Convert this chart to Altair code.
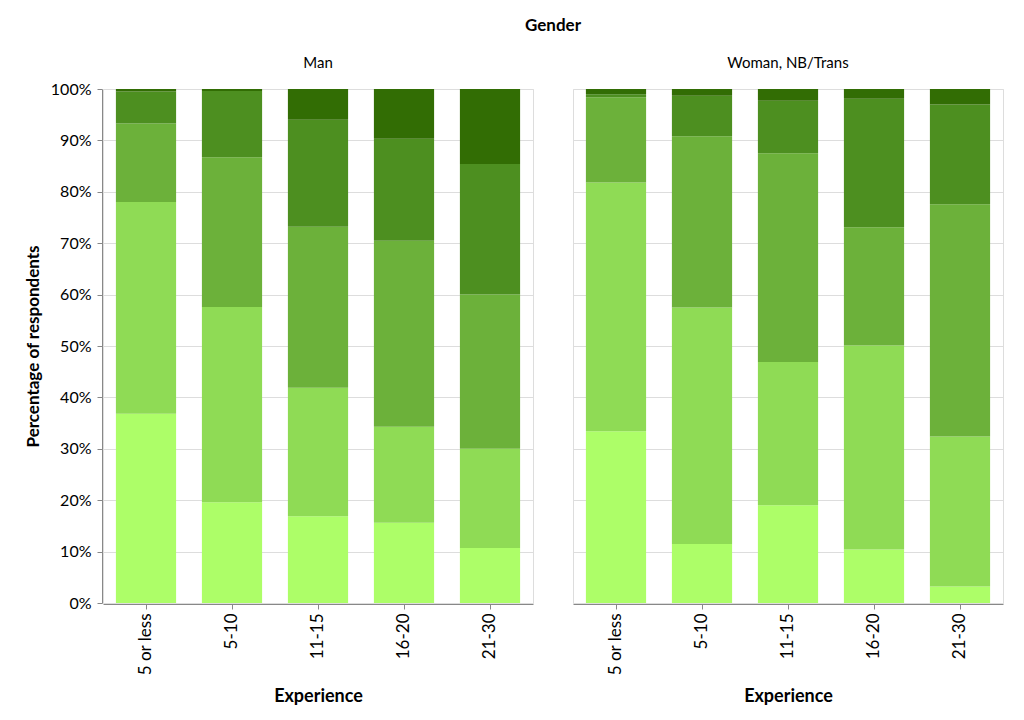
import altair as alt
import pandas as pd

genders = ["Man", "Woman, NB/Trans"]
experience = ["5 or less", "5-10", "11-15", "16-20", "21-30"]
levels = ["Level 1", "Level 2", "Level 3", "Level 4", "Level 5"]
colors = ["#adfe68", "#8fdb55", "#6cb13a", "#4d8f20", "#326d04"]

# percentages per level (bottom to top), one list per experience group
man_values = [
    [36.8, 41.2, 15.3, 6.2, 0.5],
    [19.6, 38.0, 29.1, 12.9, 0.4],
    [16.9, 25.0, 31.3, 20.8, 6.0],
    [15.6, 18.7, 36.2, 19.8, 9.7],
    [10.7, 19.3, 30.0, 25.4, 14.6],
]
woman_values = [
    [33.4, 48.4, 16.6, 0.6, 1.0],
    [11.5, 46.0, 33.3, 7.9, 1.3],
    [19.0, 27.9, 40.6, 10.2, 2.3],
    [10.4, 39.7, 23.0, 25.0, 1.9],
    [3.2, 29.2, 45.2, 19.4, 3.0],
]

rows = []
for g, table in zip(genders, [man_values, woman_values]):
    for e, vals in zip(experience, table):
        for i, (lvl, v) in enumerate(zip(levels, vals)):
            rows.append({"Gender": g, "Experience": e, "Level": lvl, "rank": i, "value": v})
df = pd.DataFrame(rows)

FONT = "Lato"

chart = alt.Chart(df).mark_bar().encode(
    x=alt.X("Experience:N", sort=experience, title="Experience",
            scale=alt.Scale(paddingInner=0.3, paddingOuter=0.15),
            axis=alt.Axis(labelAngle=-90, labelFontSize=17, titleFontSize=18,
                          titleFontWeight="bold", titlePadding=12, labelPadding=4)),
    y=alt.Y("value:Q", stack="normalize", title="Percentage of respondents",
            axis=alt.Axis(format=".0%", tickCount=10, labelFontSize=16, titleFontSize=17,
                          titleFontWeight="bold", titlePadding=8, labelPadding=6)),
    color=alt.Color("Level:N", sort=levels, scale=alt.Scale(domain=levels, range=colors),
                    legend=None),
    order=alt.Order("rank:Q", sort="ascending"),
).properties(
    width=430, height=514
).facet(
    column=alt.Column("Gender:N", sort=genders,
                      header=alt.Header(title="Gender", titleFontSize=17, titleFontWeight="bold",
                                        labelFontSize=15, titlePadding=11, labelPadding=17))
).properties(
    spacing=38,
    padding={"left": 16, "top": 9, "right": 5, "bottom": 5}
).configure(
    font=FONT
).configure_axis(
    domainColor="#888888", tickColor="#888888", gridColor="#dddddd",
    labelColor="#000000", titleColor="#000000"
).configure_view(
    stroke="#dddddd"
)

chart.save("out.html", embed_options={"renderer": "svg", "actions": False})
